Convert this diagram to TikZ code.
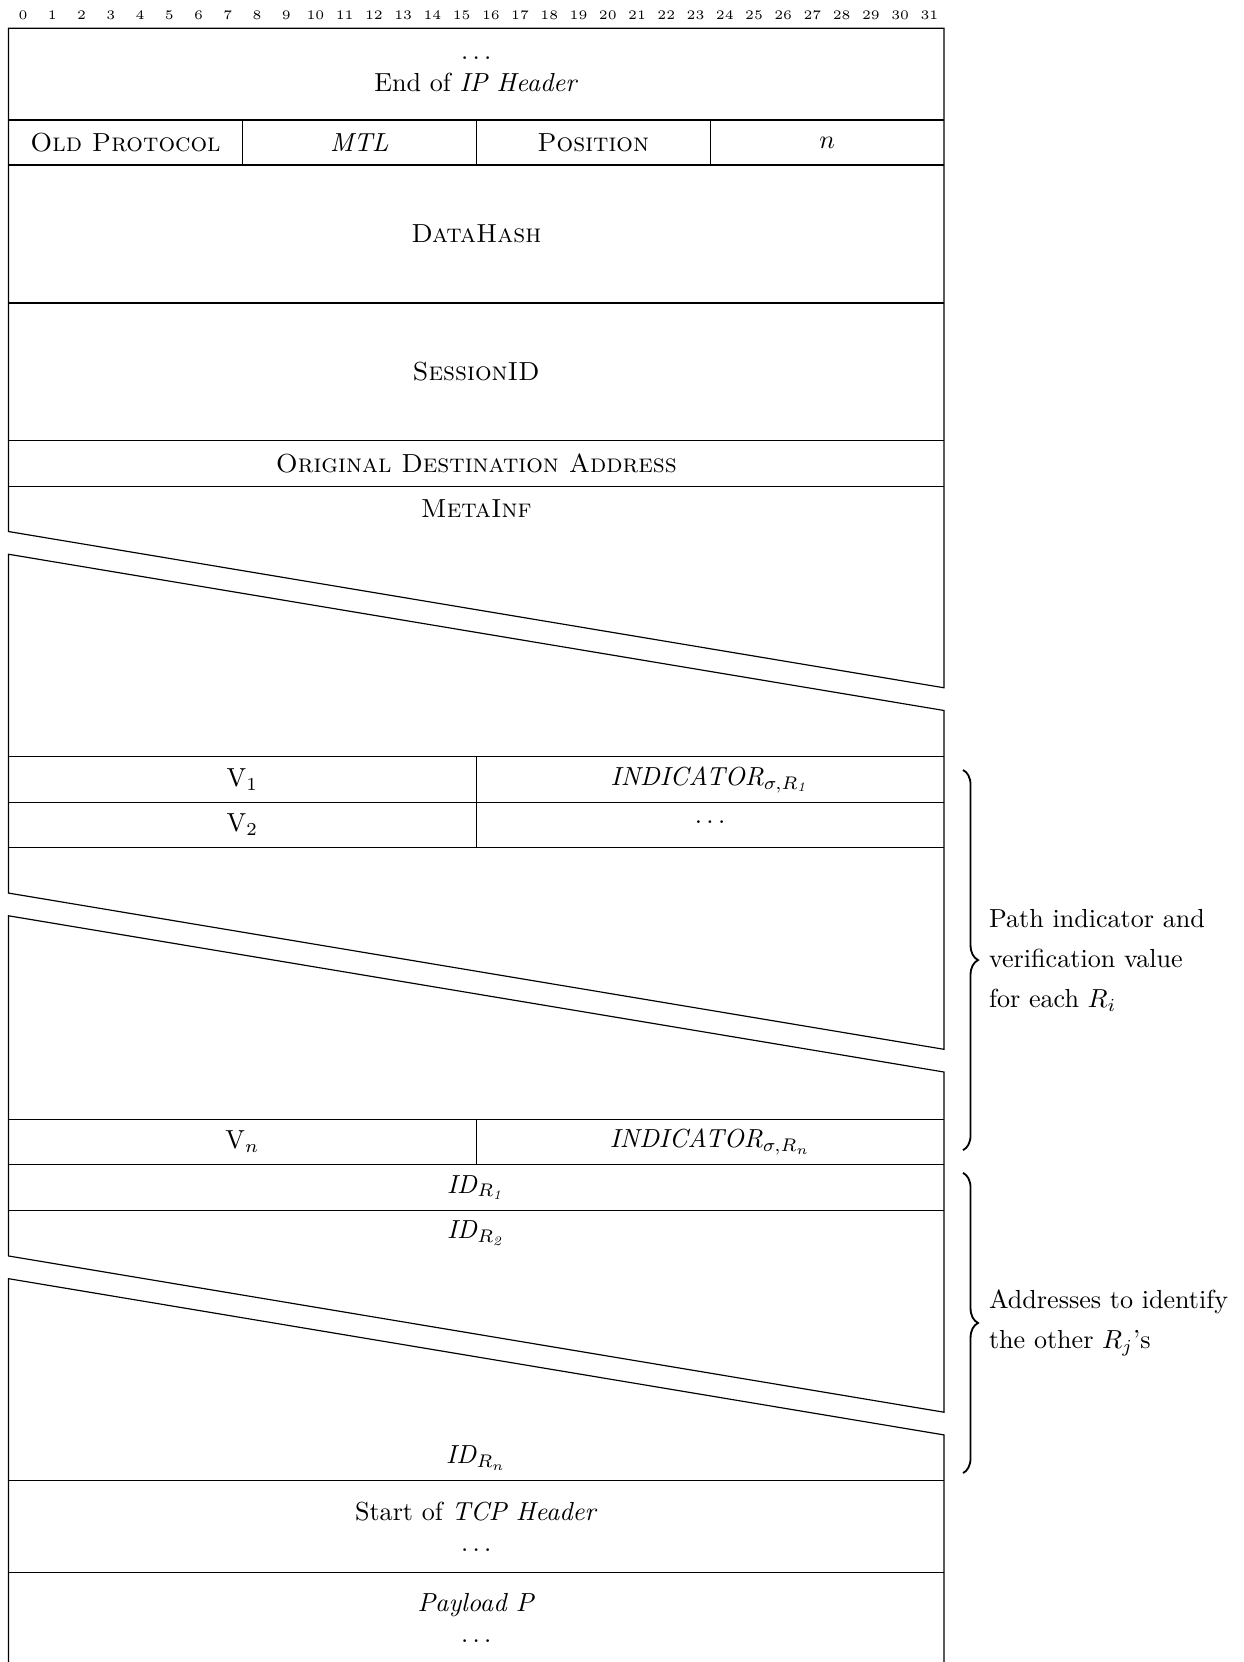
\documentclass[tikz,border=0pt]{standalone}
\usepackage{amsmath,amssymb}
\usepackage{tikz}
\usetikzlibrary{positioning, calc, decorations.pathreplacing}

\begin{document}
\begin{tikzpicture}[x=11.2pt,y=-17.4pt,line width=0.45pt,
    bitnum/.style={font=\tiny,inner sep=0pt},
    grpbrace/.style={decorate,decoration={brace,amplitude=5.75pt},line width=0.7pt},
    grplabel/.style={anchor=west,align=left,inner sep=0pt,font=\fontsize{10pt}{15.3pt}\selectfont}]

    \useasboundingbox (-0.291,-0.623) rectangle (42.23,35.97);

    % Bit numbers
    \foreach \i in {0,...,31}
        \node[bitnum] (bit\i) at (\i+0.5,-0.293) {\i};

    % Outline, broken at the skipped words
    \draw (0,0) -- (32,0) -- (32,14.52) -- (0,11.08) -- cycle;
    \draw (0,11.58) -- (32,15.02) -- (32,22.48) -- (0,19.04) -- cycle;
    \draw (0,19.54) -- (32,22.98) -- (32,30.47) -- (0,27.03) -- cycle;
    \draw (0,27.53) -- (32,30.97) -- (32,36) -- (0,36) -- cycle;

    % Word boundaries
    \foreach \r in {2.02,3.01,6.05,9.07,10.08,16.04,17.04,18.04,24.02,25.02,26.03,31.98,34}
        \draw (0,\r) -- (32,\r);

    % Field boundaries
    \foreach \c in {8,16,24}
        \draw (\c,2.02) -- (\c,3.01);
    \draw (16,16.04) -- (16,18.04);
    \draw (16,24.02) -- (16,25.02);

    % Header fields
    \node[align=center] (iphdr) at (16,1.01) {$\ldots$\\End of \textit{IP Header}};
    \node (oldproto) at (4,2.515) {\textsc{Old Protocol}};
    \node (mtl) at (12,2.515) {\textit{MTL}};
    \node (pos) at (20,2.515) {\textsc{Position}};
    \node (nval) at (28,2.515) {$n$};
    \node (dhash) at (16,4.53) {\textsc{DataHash}};
    \node (sessid) at (16,7.56) {\textsc{SessionID}};
    \node (origdst) at (16,9.575) {\textsc{Original Destination Address}};
    \node (metainf) at (16,10.58) {\textsc{MetaInf}};

    % Verification values and indicators
    \node (v1) at (8,16.54) {V$_1$};
    \node (ind1) at (24,16.54) {\textit{INDICATOR}$_{\sigma,R_{\mathit{1}}}$};
    \node (v2) at (8,17.54) {V$_2$};
    \node (ind2) at (24,17.48) {$\ldots$};
    \node (vn) at (8,24.52) {V$_n$};
    \node (indn) at (24,24.52) {\textit{INDICATOR}$_{\sigma,R_n}$};

    % Router IDs
    \node (id1) at (16,25.52) {\textit{ID}$_{R_{\mathit{1}}}$};
    \node (id2) at (16,26.53) {\textit{ID}$_{R_{\mathit{2}}}$};
    \node (idn) at (16,31.48) {\textit{ID}$_{R_n}$};

    % TCP and payload
    \node[align=center] (tcphdr) at (16,33) {Start of \textit{TCP Header}\\$\ldots$};
    \node[align=center] (payload) at (16,35) {\textit{Payload P}\\$\ldots$};

    % Groups
    \draw[grpbrace] (32.65,16.33) -- (32.65,24.70);
    \node[grplabel] (pathlbl) at (33.52,20.52) {Path indicator and\\verification value\\for each $R_i$};
    \draw[grpbrace] (32.65,25.20) -- (32.65,31.81);
    \node[grplabel] (addrlbl) at (33.52,28.5) {Addresses to identify\\the other $R_j$'s};
\end{tikzpicture}
\end{document}
